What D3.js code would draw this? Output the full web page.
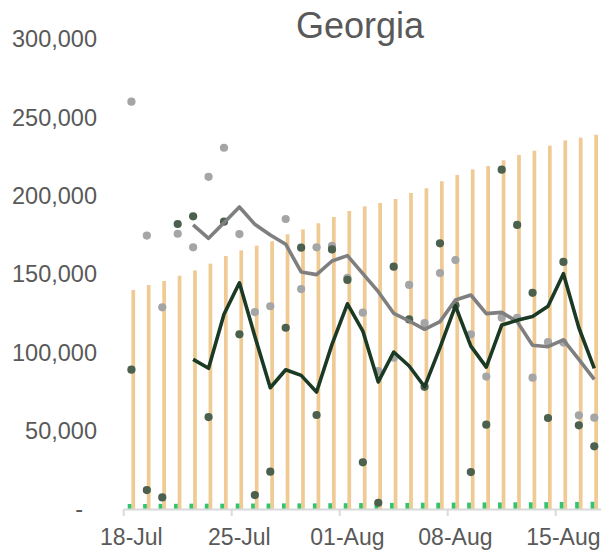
<!DOCTYPE html>
<html>
<head>
<meta charset="utf-8">
<script src="https://cdn.jsdelivr.net/npm/d3@7"></script>
<style>
  body { margin: 0; background: #fff; }
  svg { display: block; font-family: "Liberation Sans", Arial, sans-serif; }
</style>
</head>
<body>
<svg id="chart"></svg>
<script>
const dates = ["18-Jul","19-Jul","20-Jul","21-Jul","22-Jul","23-Jul","24-Jul","25-Jul","26-Jul","27-Jul",
  "28-Jul","29-Jul","30-Jul","31-Jul","01-Aug","02-Aug","03-Aug","04-Aug","05-Aug","06-Aug",
  "07-Aug","08-Aug","09-Aug","10-Aug","11-Aug","12-Aug","13-Aug","14-Aug","15-Aug","16-Aug","17-Aug"];

const tickLabels = ["18-Jul","25-Jul","01-Aug","08-Aug","15-Aug"];

// values in thousands
const tanBars = [139.8,143,145.5,148.9,152.3,156.6,161.5,165.1,168.1,170.9,175.3,178.5,182.4,186.4,190.2,
  193.2,195.3,197.9,201.7,204.7,209.2,213.2,216.8,218.9,222.6,226,228.7,231.9,235.3,237,238.9];
const greenBars = [3.2,3.2,3.3,3.3,3.4,3.4,3.4,3.5,3.5,3.5,3.6,3.6,3.6,3.7,3.7,3.8,3.8,3.9,3.9,4,
  4,4.1,4.1,4.2,4.2,4.3,4.3,4.4,4.5,4.5,4.6];
const greyDots = [260,174.5,128.7,175.7,167,212,230.6,175.5,125.7,129.4,185.1,140.4,167,167.9,147.6,
  125.3,88,96.6,143,118.7,150.6,158.9,111.5,84.5,122.1,122,83.8,106.6,106.2,59.8,58.3];
const darkDots = [88.9,12.1,7.4,181.9,186.8,58.7,183.4,111.5,8.9,23.8,115.7,166.8,60,165.7,146.2,
  29.8,4,154.7,121,78,169.6,130,23.6,53.8,216.6,181.3,138,58.1,157.7,53.4,40];
const greyLine = [null,null,null,null,181.3,172.8,182.7,192.8,181.7,174.9,169,151.3,149.6,158.3,161.7,
  150.2,138.7,124.9,120,114.7,119.6,133.4,136.6,124.7,125.5,119.6,104.5,103.6,107.9,95.5,82.8];
const darkLine = [null,null,null,null,95.5,89.8,124.3,144.4,110.2,77.4,88.9,85.3,74.7,105.1,131,
  113.6,81.1,100.2,91.3,78,103,129.6,104,90.6,117.4,120.4,122.8,129.4,150.2,115.7,89.8];

const yTicks = [0,50000,100000,150000,200000,250000,300000];

const width = 601, height = 552;
const svg = d3.select("#chart").attr("width", width).attr("height", height);

const x = d3.scaleBand().domain(dates).range([123.7, 602]).padding(0);
const y = d3.scaleLinear().domain([0, 300000]).range([509, 39]);
const cx = d => x(d) + x.bandwidth() / 2;
const barW = 3.7;

// title
svg.append("text")
  .attr("x", 360).attr("y", 38)
  .attr("text-anchor", "middle")
  .attr("fill", "#595959")
  .style("font-size", "36px")
  .text("Georgia");

// y axis labels
const fmt = d3.format(",");
svg.append("g").selectAll("text")
  .data(yTicks)
  .join("text")
  .attr("x", d => d === 0 ? 83 : 97)
  .attr("y", d => y(d))
  .attr("dy", "0.35em")
  .attr("text-anchor", "end")
  .attr("fill", "#595959")
  .style("font-size", "23.5px")
  .text(d => d === 0 ? "-" : fmt(d));

// bars
svg.append("g").selectAll("rect")
  .data(dates)
  .join("rect")
  .attr("x", d => cx(d))
  .attr("width", barW)
  .attr("y", (d, i) => y(tanBars[i] * 1000))
  .attr("height", (d, i) => y(0) - y(tanBars[i] * 1000))
  .attr("fill", "#EFCA93");

svg.append("g").selectAll("rect")
  .data(dates)
  .join("rect")
  .attr("x", d => cx(d) - barW)
  .attr("width", barW)
  .attr("y", (d, i) => y(greenBars[i] * 1000))
  .attr("height", (d, i) => y(0) - y(greenBars[i] * 1000))
  .attr("fill", "#35C46E");

// x axis
const axis = svg.append("g");
axis.append("line")
  .attr("x1", 123.7).attr("x2", 601)
  .attr("y1", 509.5).attr("y2", 509.5)
  .attr("stroke", "#d9d9d9").attr("stroke-width", 2);
axis.selectAll("line.tick")
  .data(tickLabels)
  .join("line")
  .attr("class", "tick")
  .attr("x1", d => x(d)).attr("x2", d => x(d))
  .attr("y1", 509).attr("y2", 516)
  .attr("stroke", "#d9d9d9").attr("stroke-width", 2);
axis.selectAll("text")
  .data(tickLabels)
  .join("text")
  .attr("x", d => cx(d))
  .attr("y", 545)
  .attr("text-anchor", "middle")
  .attr("fill", "#595959")
  .style("font-size", "23px")
  .text(d => d);

// dots
svg.append("g").selectAll("circle")
  .data(dates)
  .join("circle")
  .attr("cx", d => cx(d))
  .attr("cy", (d, i) => y(greyDots[i] * 1000))
  .attr("r", 4.1)
  .attr("fill", "#a5a5a5");

svg.append("g").selectAll("circle")
  .data(dates)
  .join("circle")
  .attr("cx", d => cx(d))
  .attr("cy", (d, i) => y(darkDots[i] * 1000))
  .attr("r", 4.1)
  .attr("fill", "#4b604d");

// lines
const line = d3.line()
  .defined(d => d.v != null)
  .x(d => cx(d.date))
  .y(d => y(d.v * 1000));

svg.append("path")
  .datum(dates.map((d, i) => ({ date: d, v: greyLine[i] })))
  .attr("d", line)
  .attr("fill", "none")
  .attr("stroke", "#7f7f7f")
  .attr("stroke-width", 3.6)
  .attr("stroke-linejoin", "round");

svg.append("path")
  .datum(dates.map((d, i) => ({ date: d, v: darkLine[i] })))
  .attr("d", line)
  .attr("fill", "none")
  .attr("stroke", "#1b3a25")
  .attr("stroke-width", 3.6)
  .attr("stroke-linejoin", "round");
</script>
</body>
</html>
